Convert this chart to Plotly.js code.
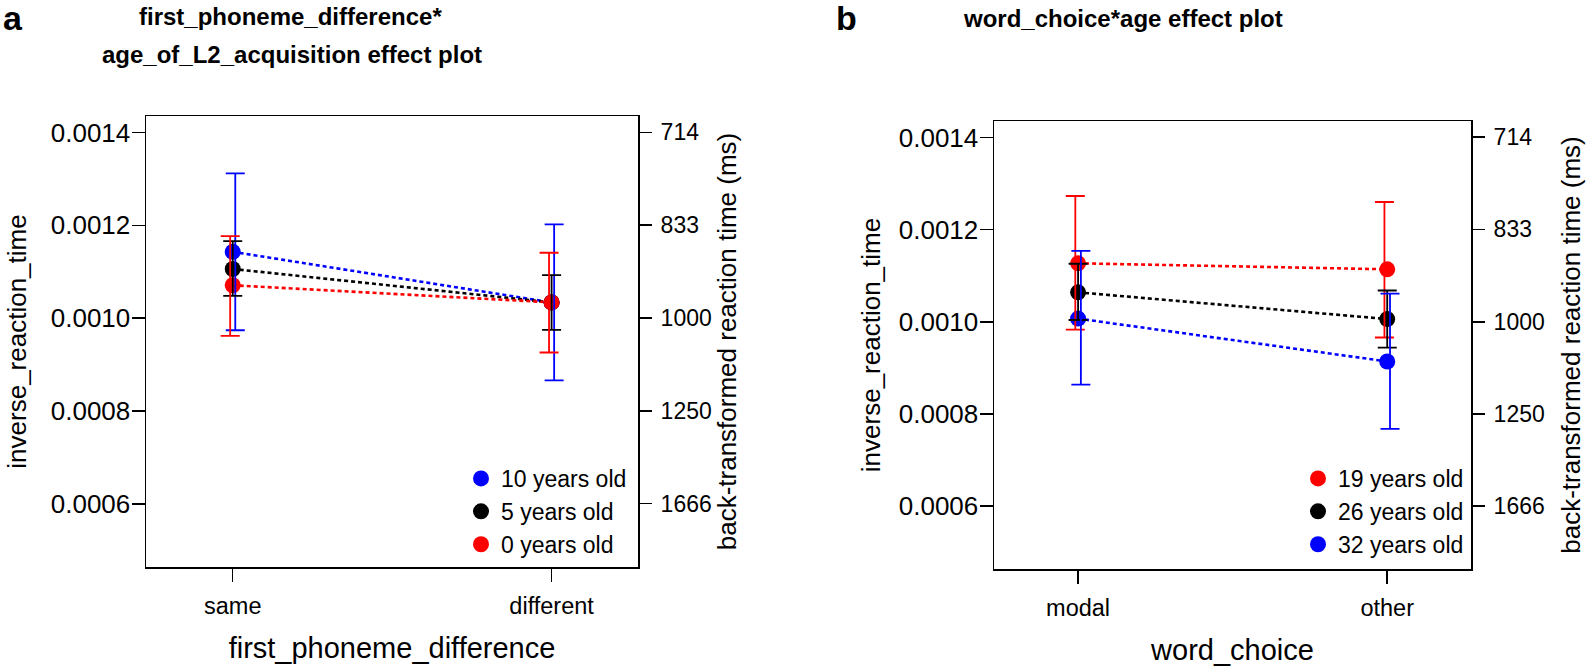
<!DOCTYPE html>
<html><head><meta charset="utf-8">
<script src="https://cdn.plot.ly/plotly-3.0.1.min.js"></script>
<style>html,body{margin:0;padding:0;background:#fff}#chart{width:1595px;height:667px}</style>
</head><body><div id="chart"></div>
<script>
// ---------- Panel a data ----------
const catsA = ["same", "different"];
const seriesA = ["10 years old", "5 years old", "0 years old"];
const colorsA = ["#0000ff", "#000000", "#ff0000"];
const meanA_10 = [0.001143, 0.001034];
const meanA_5  = [0.001106, 0.001034];
const meanA_0  = [0.001071, 0.001034];
const upperA_10 = [0.001312, 0.001202];
const upperA_5  = [0.001166, 0.001093];
const upperA_0  = [0.001177, 0.001141];
const lowerA_10 = [0.000974, 0.000866];
const lowerA_5  = [0.001048, 0.000975];
const lowerA_0  = [0.000962, 0.000926];

// ---------- Panel b data ----------
const catsB = ["modal", "other"];
const seriesB = ["19 years old", "26 years old", "32 years old"];
const colorsB = ["#ff0000", "#000000", "#0000ff"];
const meanB_19 = [0.001127, 0.001114];
const meanB_26 = [0.001064, 0.001006];
const meanB_32 = [0.001007, 0.000914];
const upperB_19 = [0.001273, 0.001260];
const upperB_26 = [0.001126, 0.001068];
const upperB_32 = [0.001154, 0.001061];
const lowerB_19 = [0.000983, 0.000966];
const lowerB_26 = [0.001004, 0.000944];
const lowerB_32 = [0.000864, 0.000768];

// ---------- Tick labels ----------
const leftTicks = [0.0006, 0.0008, 0.0010, 0.0012, 0.0014];
const leftTickText = ["0.0006", "0.0008", "0.0010", "0.0012", "0.0014"];
const msTicks = [714, 833, 1000, 1250, 1666];

const FONT = "Liberation Sans, Arial, Helvetica, sans-serif";

function panelTraces(cats, names, colors, means, uppers, lowers, dodge, xa, ya, yaErr, legendId) {
  const idx = cats.map((c, i) => i);
  const lines = [], marks = [], errs = [];
  names.forEach((nm, s) => {
    lines.push({
      type: "scatter", mode: "lines", x: idx, y: means[s], xaxis: xa, yaxis: ya,
      line: {color: colors[s], width: 2.6, dash: "4px,3px"},
      showlegend: false, hoverinfo: "skip"
    });
    marks.push({
      type: "scatter", mode: "markers", name: nm, x: idx, y: means[s], xaxis: xa, yaxis: ya,
      marker: {color: colors[s], size: 16, symbol: "circle"},
      legend: legendId
    });
    errs.push({
      type: "scatter", mode: "markers", x: idx.map(i => i + dodge[s]), y: means[s], xaxis: xa, yaxis: yaErr,
      marker: {color: colors[s], size: 1, opacity: 0},
      error_y: {
        type: "data", symmetric: false, visible: true,
        array: uppers[s].map((u, i) => u - means[s][i]),
        arrayminus: lowers[s].map((l, i) => means[s][i] - l),
        color: colors[s], thickness: 1.8, width: 9.5
      },
      showlegend: false, hoverinfo: "skip"
    });
  });
  return lines.concat(marks, errs);
}

const traces = [].concat(
  panelTraces(catsA, seriesA, colorsA,
    [meanA_10, meanA_5, meanA_0], [upperA_10, upperA_5, upperA_0], [lowerA_10, lowerA_5, lowerA_0],
    [0.008, 0, -0.008], "x", "y", "y2", "legend"),
  panelTraces(catsB, seriesB, colorsB,
    [meanB_19, meanB_26, meanB_32], [upperB_19, upperB_26, upperB_32], [lowerB_19, lowerB_26, lowerB_32],
    [-0.009, 0, 0.009], "x2", "y3", "y4", "legend2")
);

const W = 1595, H = 667;
const yRange = [0.0004638, 0.0014357];
const xRange = [-0.272, 1.271];

function xAxis(cats, title, domain, anchor) {
  return {
    domain: domain, anchor: anchor, range: xRange, tickmode: "array", tickvals: cats.map((c, i) => i), ticktext: cats,
    ticks: "outside", ticklen: 13, tickwidth: 1.5, tickcolor: "#000",
    showline: true, mirror: true, linewidth: 1.5, linecolor: "#000",
    showgrid: false, zeroline: false, ticklabelstandoff: 4,
    tickfont: {size: 23.5},
    title: {text: title, font: {size: 29}, standoff: 20}
  };
}
function yLeft(domain, anchor, standoff) {
  return {
    domain: domain, anchor: anchor, range: yRange, tickmode: "array", tickvals: leftTicks, ticktext: leftTickText,
    ticks: "outside", ticklen: 13, tickwidth: 1.5, tickcolor: "#000",
    showline: true, mirror: true, linewidth: 1.5, linecolor: "#000",
    showgrid: false, zeroline: false, ticklabelstandoff: -4,
    tickfont: {size: 26},
    title: {text: "inverse_reaction_time", font: {size: 26}, standoff: standoff}
  };
}
function yRight(over, anchor, standoff) {
  return {
    overlaying: over, anchor: anchor, side: "right", range: yRange, tickmode: "array",
    tickvals: msTicks.map(v => 1 / v), ticktext: msTicks.map(String),
    ticks: "outside", ticklen: 13, tickwidth: 1.5, tickcolor: "#000",
    showline: false, showgrid: false, zeroline: false, ticklabelstandoff: 4,
    tickfont: {size: 23},
    title: {text: "back-transformed reaction time (ms)", font: {size: 26}, standoff: standoff}
  };
}

const layout = {
  width: W, height: H,
  margin: {l: 0, r: 0, t: 0, b: 0},
  paper_bgcolor: "#fff", plot_bgcolor: "#fff",
  font: {family: FONT, color: "#000", size: 23},
  showlegend: true,
  xaxis: xAxis(catsA, "first_phoneme_difference", [146 / W, 638 / W], "y"),
  yaxis: yLeft([1 - 567 / H, 1 - 116 / H], "x", 16),
  yaxis2: yRight("y", "x", 0),
  xaxis2: xAxis(catsB, "word_choice", [994 / W, 1471 / W], "y3"),
  yaxis3: yLeft([1 - 569 / H, 1 - 121 / H], "x2", 10),
  yaxis4: yRight("y3", "x2", 18),
  legend: {
    x: 632 / W, xanchor: "right", y: 1 - 566 / H, yanchor: "bottom",
    bgcolor: "rgba(0,0,0,0)", borderwidth: 0, font: {size: 23}, itemwidth: 30, tracegroupgap: 0
  },
  legend2: {
    x: 1469 / W, xanchor: "right", y: 1 - 566 / H, yanchor: "bottom",
    bgcolor: "rgba(0,0,0,0)", borderwidth: 0, font: {size: 23}, itemwidth: 30, tracegroupgap: 0
  },
  annotations: [
    {text: "a", xref: "paper", yref: "paper", x: 13 / W, y: 1 - 18 / H, showarrow: false,
     font: {size: 34, weight: "bold"}, xanchor: "center", yanchor: "middle"},
    {text: "b", xref: "paper", yref: "paper", x: 846 / W, y: 1 - 18 / H, showarrow: false,
     font: {size: 34, weight: "bold"}, xanchor: "center", yanchor: "middle"},
    {text: "first_phoneme_difference*", xref: "paper", yref: "paper", x: 290 / W, y: 1 - 17 / H, showarrow: false,
     font: {size: 24, weight: "bold"}, xanchor: "center", yanchor: "middle"},
    {text: "age_of_L2_acquisition effect plot", xref: "paper", yref: "paper", x: 292 / W, y: 1 - 54 / H, showarrow: false,
     font: {size: 24, weight: "bold"}, xanchor: "center", yanchor: "middle"},
    {text: "word_choice*age effect plot", xref: "paper", yref: "paper", x: 1123 / W, y: 1 - 18 / H, showarrow: false,
     font: {size: 24, weight: "bold"}, xanchor: "center", yanchor: "middle"}
  ]
};

Plotly.newPlot("chart", traces, layout, {displayModeBar: false, staticPlot: true});
</script>
</body></html>
